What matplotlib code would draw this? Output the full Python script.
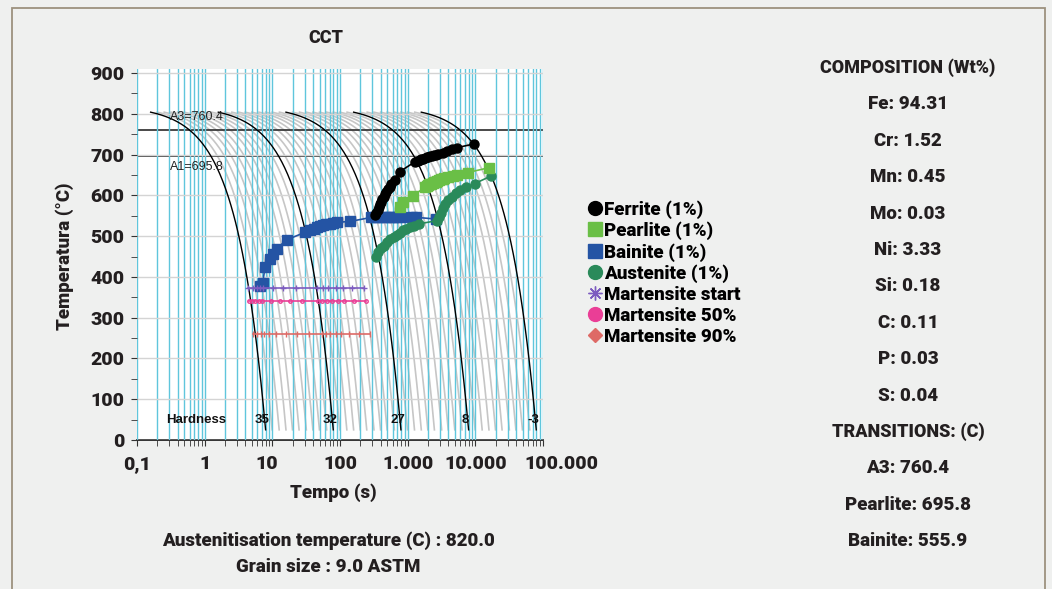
import numpy as np
import matplotlib
matplotlib.use('Agg')
import matplotlib.pyplot as plt
from matplotlib.lines import Line2D
from matplotlib.patches import Rectangle
import matplotlib.transforms as mtransforms

plt.rcParams['font.family'] = ['Roboto', 'DejaVu Sans']

# ---- data ----
T_aust = 820.0
T_room = 25.0

# cooling rates (C/s) of the grey family, the black ones carry the hardness
rates = [100, 80, 63, 50, 40, 32, 25, 20, 16, 12.5,
         10, 8, 6.3, 5, 4, 3.2, 2.5, 2, 1.6, 1.25,
         1, 0.8, 0.63, 0.5, 0.4, 0.32, 0.25, 0.2, 0.16, 0.125,
         0.1, 0.08, 0.063, 0.05, 0.04, 0.032, 0.025, 0.02, 0.016, 0.0125,
         0.01]
black_rates = [100, 10, 1, 0.1, 0.01]
hardness = ['35', '32', '27', '8', '-3']

A3 = 760.4
A1 = 695.8

ferrite_t = [330, 345, 360, 375, 390, 405, 420, 440, 460, 485, 510, 540, 570,
             640, 760, 1300, 1400, 1500, 1600, 1700, 1800, 1900, 2000, 2150,
             2300, 2450, 2600, 2800, 3300, 3800, 4500, 5300, 9500]
ferrite_T = [552, 558, 565, 571, 578, 584, 590, 597, 603, 609, 615, 621, 628,
             638, 658, 683, 685, 687, 689, 690, 692, 693, 694, 696,
             697, 699, 700, 702, 705, 709, 713, 717, 726]

pearlite_t = [770, 850, 1200, 1800, 1900, 2000, 2100, 2200, 2330, 2450, 2600,
              2750, 2900, 3100, 3300, 3500, 4000, 4600, 5300, 7700, 16000]
pearlite_T = [572, 585, 599, 620, 623, 625, 627, 629, 631, 633, 634,
              636, 637, 639, 640, 642, 645, 648, 650, 656, 668]

bainite_t = [6.5, 7.2, 7.8, 9.2, 10.3, 11.6, 16.3, 30, 36, 41, 45, 50, 56, 63,
             71, 80, 90, 140, 290, 330, 370, 420, 480, 540, 610, 700, 800,
             1150, 1350, 2650]
bainite_T = [378, 385, 424, 444, 456, 469, 491, 509, 515, 518, 522, 525, 527,
             529, 531, 533, 534, 536, 546, 547, 548, 548, 548, 548, 548, 548,
             548, 547, 546, 542]

austenite_t = [340, 370, 400, 440, 490, 550, 620, 690, 770, 860, 960, 1080,
               1250, 1450, 2700, 2900, 3100, 3300, 3600, 4000, 4500, 5100,
               5900, 7400, 9800, 17300]
austenite_T = [450, 462, 470, 477, 485, 492, 497, 502, 508, 514, 518, 522,
               526, 530, 538, 548, 558, 568, 578, 588, 597, 605, 612, 620,
               629, 648]

ms_t = [4.4, 5.1, 5.9, 6.6, 7.3, 10.3, 14.5, 22, 46, 56, 67, 87, 111, 148, 228]
ms_T = 373
m50_t = [4.5, 5.0, 5.6, 6.3, 7.1, 9.5, 13, 18, 27, 48, 55, 64, 76, 92, 115, 160, 240]
m50_T = 340
m90_t = [5.2, 5.9, 6.7, 7.6, 9.0, 11.5, 16, 23, 35, 55, 62, 72, 86, 105, 135, 190, 275]
m90_T = 259

composition = [('Fe', '94.31'), ('Cr', '1.52'), ('Mn', '0.45'), ('Mo', '0.03'),
               ('Ni', '3.33'), ('Si', '0.18'), ('C', '0.11'), ('P', '0.03'),
               ('S', '0.04')]
transitions = [('A3', '760.4'), ('Pearlite', '695.8'), ('Bainite', '555.9')]

x_ticks = [0.1, 1, 10, 100, 1000, 10000, 100000]
x_labels = ['0,1', '1', '10', '100', '1.000', '10.000', '100.000']

# ---- figure ----
W, H = 1052, 589
def fx(px):
    return px / W
def fy(py):
    return 1 - py / H

txt = '#231f20'
bold = dict(fontweight='heavy', color=txt)

fig = plt.figure(figsize=(W / 100, H / 100), dpi=100, facecolor='#eff0ef')
fig.patches.append(Rectangle((fx(12), -0.05), fx(1045) - fx(12), fy(8) + 0.05,
                             transform=fig.transFigure, fill=False,
                             edgecolor='#9c917f', lw=1.3))

ax = fig.add_axes([fx(137), fy(440), fx(543) - fx(137), fy(69) - fy(440)])
ax.set_facecolor('white')
ax.set_xscale('log')
ax.set_xlim(0.1, 1e5)
ax.set_ylim(0, 910)

# cooling curves (linear cooling from austenitisation temp)
for r in rates:
    t_end = (T_aust - T_room) / r
    t = np.logspace(np.log10(t_end / 50), np.log10(t_end), 200)
    T = T_aust - r * t
    if r in black_rates:
        ax.plot(t, T, color='black', lw=1.0, zorder=3)
    else:
        ax.plot(t, T, color='#c6c6c6', lw=1.2, zorder=1)

ax.axhline(A3, color='#3a3a3a', lw=1.3, zorder=1.2)
ax.axhline(A1, color='#3a3a3a', lw=1.3, zorder=1.2)
ax.text(0.31, A3 + 32, f'A3={A3}', fontsize=9, family=['Liberation Sans', 'DejaVu Sans'],
        color='#222', va='center', zorder=4)
ax.text(0.31, A1 - 27, f'A1={A1}', fontsize=9, family=['Liberation Sans', 'DejaVu Sans'],
        color='#222', va='center', zorder=4)

# grid
ax.set_axisbelow(False)
ax.grid(True, which='both', axis='x', color='#5fc6dc', lw=1.0)
ax.grid(True, which='major', axis='y', color='#d4d4d4', lw=1.0)
ax.set_yticks(np.arange(0, 901, 100))
ax.set_yticks(np.arange(50, 900, 100), minor=True)
ax.set_xticks(x_ticks)
ax.set_xticklabels(x_labels)
ax.tick_params(axis='both', which='both', direction='out', length=4,
               color='#333', labelsize=14, labelcolor=txt)
ax.tick_params(axis='y', which='major', pad=5)
ax.tick_params(axis='x', which='major', pad=7)
for lab in ax.get_xticklabels() + ax.get_yticklabels():
    lab.set_fontweight('heavy')
# the outer x labels sit a bit off their ticks in the reference
xl = ax.get_xticklabels()
xl[-1].set_transform(xl[-1].get_transform() +
                     mtransforms.ScaledTranslation(18 / 100, 0, fig.dpi_scale_trans))
xl[2].set_transform(xl[2].get_transform() +
                    mtransforms.ScaledTranslation(-6 / 100, 0, fig.dpi_scale_trans))
for s in ['top', 'right', 'left']:
    ax.spines[s].set_visible(False)
ax.spines['bottom'].set_color('#111')
ax.spines['bottom'].set_linewidth(1.2)

# hardness labels
hf = dict(fontsize=9.5, family=['Liberation Sans', 'DejaVu Sans'], fontweight='bold',
          color='#111', va='center', ha='center', zorder=4)
ax.text(0.75, 49, 'Hardness', **hf)
for r, h in zip(black_rates, hardness):
    ax.text((T_aust - T_room) / r * 0.9, 49, h, **hf)

# transformation data
ax.plot(bainite_t, bainite_T, color='#2454a4', lw=1.2, marker='s', ms=6.5,
        mec='#2454a4', zorder=5)
ax.plot(austenite_t, austenite_T, color='#2a8a5a', lw=1.2, marker='o', ms=6.5,
        mec='#2a8a5a', zorder=5)
ax.plot(pearlite_t, pearlite_T, color='#6abf46', lw=1.2, marker='s', ms=7,
        mec='#6abf46', zorder=5)
ax.plot(ferrite_t, ferrite_T, color='black', lw=1.2, marker='o', ms=6.5, zorder=6)
ax.plot(ms_t, [ms_T] * len(ms_t), color='#7d5cc0', lw=1.2, marker='+', ms=5, zorder=5)
ax.plot(m50_t, [m50_T] * len(m50_t), color='#ea3e96', lw=1.2, marker='o', ms=2.5,
        mfc='none', zorder=5)
ax.plot(m90_t, [m90_T] * len(m90_t), color='#de6a66', lw=1.2, marker='|', ms=4, zorder=5)

# legend
handles = [
    Line2D([], [], ls='none', marker='o', ms=10, color='black'),
    Line2D([], [], ls='none', marker='s', ms=10, color='#6abf46'),
    Line2D([], [], ls='none', marker='s', ms=10, color='#2454a4'),
    Line2D([], [], ls='none', marker='o', ms=10, color='#2a8a5a'),
    Line2D([], [], ls='none', marker=(8, 2, 0), ms=10, color='#7d5cc0', mew=1),
    Line2D([], [], ls='none', marker='o', ms=10, color='#ea3e96'),
    Line2D([], [], ls='none', marker='D', ms=7, color='#de6a66'),
]
labels = ['Ferrite (1%)', 'Pearlite (1%)', 'Bainite (1%)', 'Austenite (1%)',
          'Martensite start', 'Martensite 50%', 'Martensite 90%']
fig.legend(handles, labels, loc='upper left', bbox_to_anchor=(fx(588), fy(200)),
           frameon=False, handlelength=0.75, handletextpad=0.1, labelspacing=0.15,
           borderpad=0, borderaxespad=0,
           prop=dict(family=['Roboto', 'DejaVu Sans'], weight='heavy', size=13.5))

# titles and labels
fig.text(fx(326), fy(38), 'CCT', ha='center', va='center', fontsize=13, **bold)
fig.text(fx(65), fy(256), 'Temperatura (°C)', ha='center', va='center',
         rotation=90, fontsize=13.5, **bold)
fig.text(fx(333), fy(493), 'Tempo (s)', ha='center', va='center', fontsize=13.5, **bold)
fig.text(fx(328), fy(541), 'Austenitisation temperature (C) : 820.0', ha='center',
         va='center', fontsize=13.5, **bold)
fig.text(fx(328), fy(567), 'Grain size : 9.0 ASTM', ha='center', va='center',
         fontsize=13.5, **bold)

# composition panel
cx = fx(908)
y = 68
fig.text(cx, fy(y), 'COMPOSITION (Wt%)', ha='center', va='center', fontsize=13, **bold)
for el, v in composition:
    y += 36.4
    fig.text(cx, fy(y), f'{el}: {v}', ha='center', va='center', fontsize=13.5, **bold)
y += 36.4
fig.text(cx, fy(y), 'TRANSITIONS: (C)', ha='center', va='center', fontsize=13, **bold)
for el, v in transitions:
    y += 36.4
    fig.text(cx, fy(y), f'{el}: {v}', ha='center', va='center', fontsize=13.5, **bold)

fig.savefig('out.png', dpi=100, facecolor=fig.get_facecolor())
